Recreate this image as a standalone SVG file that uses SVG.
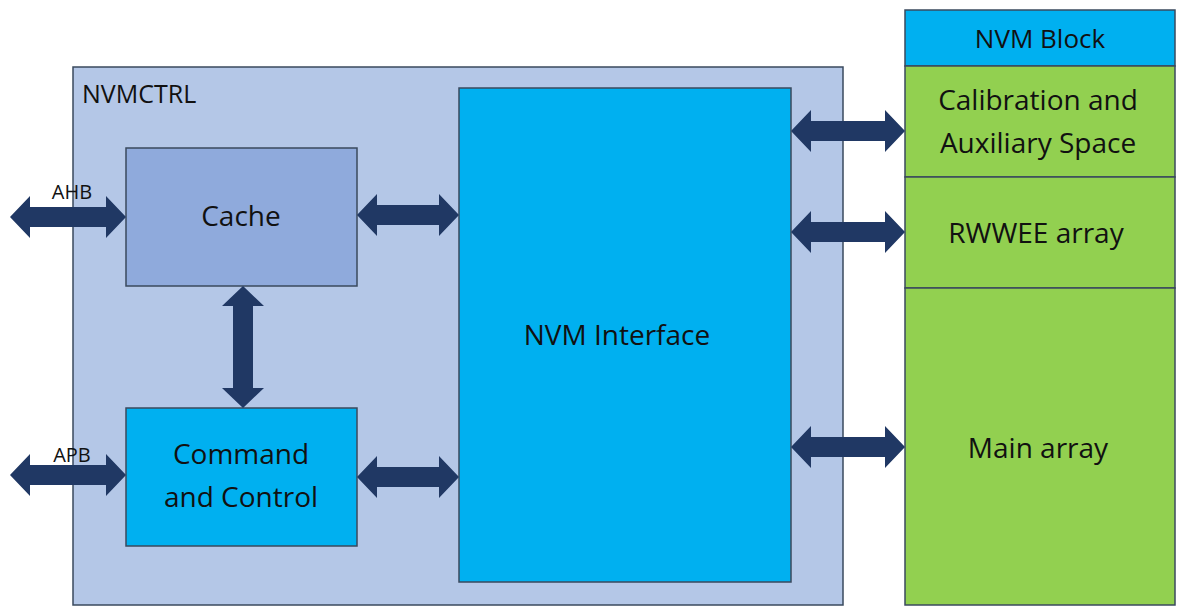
<svg xmlns="http://www.w3.org/2000/svg" width="1179" height="612" viewBox="0 0 1179 612">
<style>
.b{stroke:#3a4a5e;stroke-width:1.5}
.t{font-family:"Open Sans","Liberation Sans",sans-serif;fill:#111;text-anchor:middle}
.a{fill:#203864}
</style>
<rect width="1179" height="612" fill="#fff"/>
<g id="nvmctrl"><rect x="73" y="67" width="770" height="538" fill="#b4c7e7" class="b"/><text class="t" x="82" y="103" font-size="25" style="text-anchor:start">NVMCTRL</text></g>
<g id="cache"><rect x="126" y="148" width="231" height="138" fill="#8faadc" class="b"/><text class="t" x="241" y="226" font-size="28">Cache</text></g>
<g id="cmd"><rect x="126" y="408" width="231" height="138" fill="#00b0f0" class="b"/><text class="t" x="241" y="464" font-size="28">Command</text><text class="t" x="241" y="507" font-size="28">and Control</text></g>
<g id="nvmif"><rect x="459" y="88" width="332" height="494" fill="#00b0f0" class="b"/><text class="t" x="617" y="345" font-size="28">NVM Interface</text></g>
<g id="nvmblock">
<rect x="905" y="10" width="270" height="56" fill="#00b0f0" class="b"/><text class="t" x="1040" y="48" font-size="26">NVM Block</text>
<rect x="905" y="66" width="270" height="111" fill="#92d050" class="b"/><text class="t" x="1038" y="110" font-size="28">Calibration and</text><text class="t" x="1038" y="153" font-size="28">Auxiliary Space</text>
<rect x="905" y="177" width="270" height="111" fill="#92d050" class="b"/><text class="t" x="1036" y="243" font-size="28">RWWEE array</text>
<rect x="905" y="288" width="270" height="317" fill="#92d050" class="b"/><text class="t" x="1038" y="458" font-size="28">Main array</text>
</g>
<g id="connectors">
<polygon class="a" points="10,217 30,196 30,207 106,207 106,196 126,217 106,238 106,227 30,227 30,238"/>
<polygon class="a" points="357,215 377,194 377,205 439,205 439,194 459,215 439,236 439,225 377,225 377,236"/>
<polygon class="a" points="243,286 264,306 253,306 253,388 264,388 243,408 222,388 233,388 233,306 222,306"/>
<polygon class="a" points="10,475 30,454 30,465 106,465 106,454 126,475 106,496 106,485 30,485 30,496"/>
<polygon class="a" points="357,477 377,456 377,467 439,467 439,456 459,477 439,498 439,487 377,487 377,498"/>
<polygon class="a" points="791,131 811,110 811,121 885,121 885,110 905,131 885,152 885,141 811,141 811,152"/>
<polygon class="a" points="791,232 811,211 811,222 885,222 885,211 905,232 885,253 885,242 811,242 811,253"/>
<polygon class="a" points="791,447 811,426 811,437 885,437 885,426 905,447 885,468 885,457 811,457 811,468"/>
</g>
<text class="t" x="72" y="199" font-size="20">AHB</text>
<text class="t" x="72" y="462" font-size="20">APB</text>
</svg>
